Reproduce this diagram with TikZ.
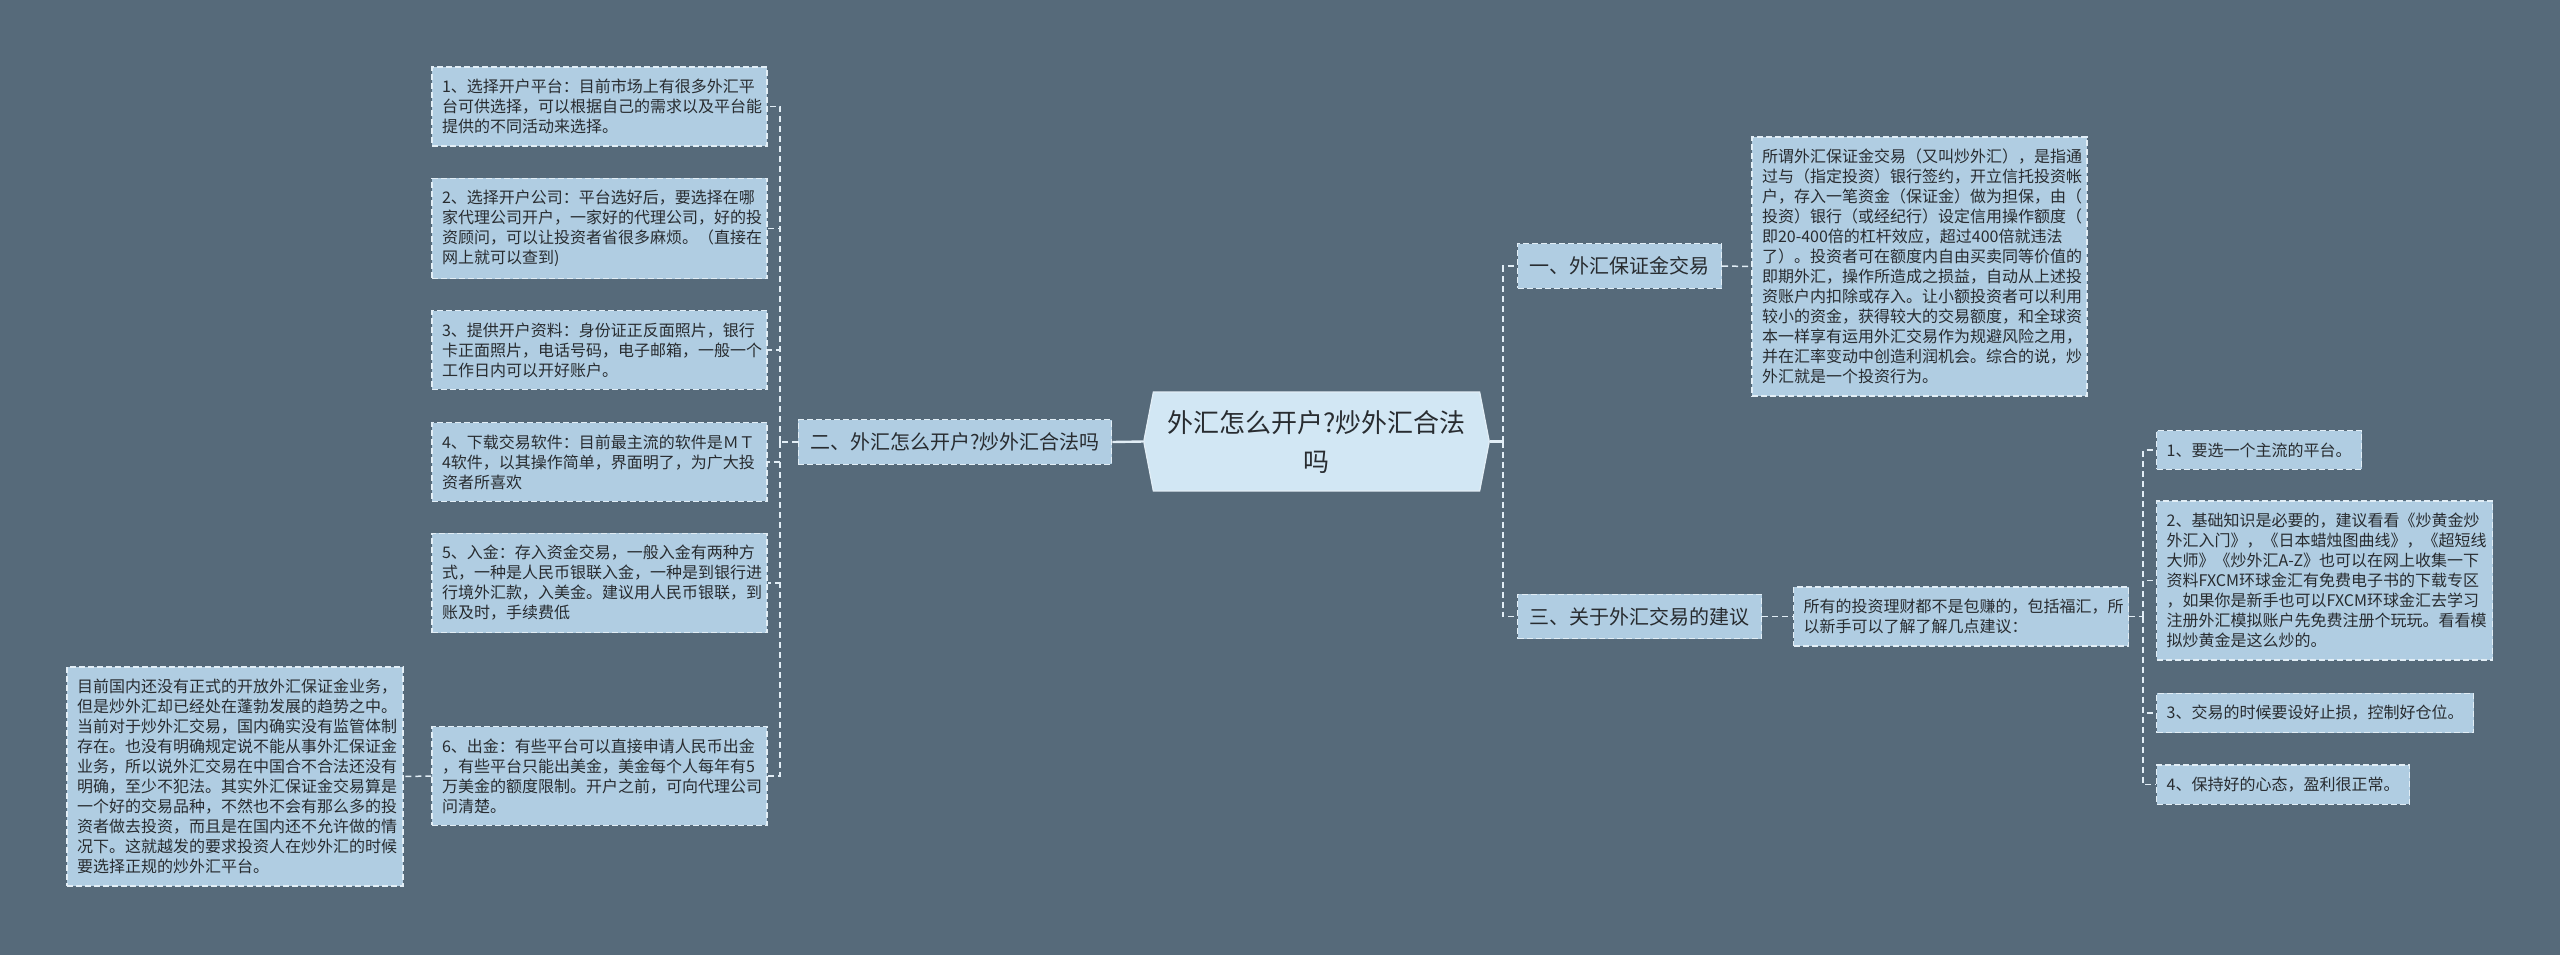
\documentclass[tikz,border=0pt]{standalone}
\usepackage{fontspec}
\setmainfont{Noto Sans CJK SC}
\usetikzlibrary{shapes.symbols}
\definecolor{pagebg}{RGB}{86,106,122}
\definecolor{boxfill}{RGB}{176,205,226}
\definecolor{rootfill}{RGB}{210,231,244}
\definecolor{inktext}{RGB}{40,44,48}
\definecolor{edgeline}{RGB}{226,238,246}
\tikzset{
  leafbox/.style={draw=edgeline,fill=boxfill,dash pattern=on 3pt off 1.5pt,line width=0.6pt,
    text=inktext,font=\fontsize{8}{10}\selectfont,inner xsep=5pt,inner ysep=6pt,align=left},
  wideleaf/.style={leafbox,text width=157.5pt},
  topicbox/.style={leafbox,font=\fontsize{10}{12}\selectfont,inner xsep=6pt,inner ysep=6.5pt},
  rootbox/.style={signal,signal to=west and east,signal pointer angle=158,fill=rootfill,
    draw=edgeline,line width=0.6pt,text=inktext,font=\fontsize{13}{19.5}\selectfont,
    align=center,inner xsep=7pt,inner ysep=9pt},
  link/.style={draw=edgeline,line width=0.75pt,dash pattern=on 3pt off 2pt},
  mainlink/.style={draw=edgeline,line width=1.2pt}
}
\begin{document}
\begin{tikzpicture}[x=0.5pt,y=-0.5pt]
  \fill[pagebg] (0,0) rectangle (2560,955);
  \useasboundingbox (0,0) rectangle (2560,955);
  % centre
  \node[rootbox] (root) at (1316.5,441.5) {外汇怎么开户?炒外汇合法\\吗};
  \node[topicbox] (t2) at (955,442) {二、外汇怎么开户?炒外汇合法吗};
  \node[topicbox,anchor=west] (t1) at (1517,266) {一、外汇保证金交易};
  \node[topicbox,anchor=west] (t3) at (1517,616.5) {三、关于外汇交易的建议};
  \coordinate (jl) at (780,442);
  \coordinate (jr) at (1503,441.5);
  \coordinate (jq) at (2143,616.5);
  % left branch
  \node[wideleaf] (l1) at (599.5,106.5) {1、选择开户平台：目前市场上有很多外汇平\\台可供选择，可以根据自己的需求以及平台能\\提供的不同活动来选择。};
  \node[wideleaf] (l2) at (599.5,228.5) {2、选择开户公司：平台选好后，要选择在哪\\家代理公司开户，一家好的代理公司，好的投\\资顾问，可以让投资者省很多麻烦。（直接在\\网上就可以查到)};
  \node[wideleaf] (l3) at (599.5,350) {3、提供开户资料：身份证正反面照片，银行\\卡正面照片，电话号码，电子邮箱，一般一个\\工作日内可以开好账户。};
  \node[wideleaf] (l4) at (599.5,462) {4、下载交易软件：目前最主流的软件是ＭＴ\\4软件，以其操作简单，界面明了，为广大投\\资者所喜欢};
  \node[wideleaf] (l5) at (599.5,583) {5、入金：存入资金交易，一般入金有两种方\\式，一种是人民币银联入金，一种是到银行进\\行境外汇款，入美金。建议用人民币银联，到\\账及时，手续费低};
  \node[wideleaf] (l6) at (599.5,776) {6、出金：有些平台可以直接申请人民币出金\\，有些平台只能出美金，美金每个人每年有5\\万美金的额度限制。开户之前，可向代理公司\\问清楚。};
  \node[wideleaf,text width=158pt] (far) at (235,776.5) {目前国内还没有正式的开放外汇保证金业务，\\但是炒外汇却已经处在蓬勃发展的趋势之中。\\当前对于炒外汇交易，国内确实没有监管体制\\存在。也没有明确规定说不能从事外汇保证金\\业务，所以说外汇交易在中国合不合法还没有\\明确，至少不犯法。其实外汇保证金交易算是\\一个好的交易品种，不然也不会有那么多的投\\资者做去投资，而且是在国内还不允许做的情\\况下。这就越发的要求投资人在炒外汇的时候\\要选择正规的炒外汇平台。};
  % right branch
  \node[wideleaf] (def) at (1919.5,266.5) {所谓外汇保证金交易（又叫炒外汇），是指通\\过与（指定投资）银行签约，开立信托投资帐\\户，存入一笔资金（保证金）做为担保，由（\\投资）银行（或经纪行）设定信用操作额度（\\即20-400倍的杠杆效应，超过400倍就违法\\了）。投资者可在额度内自由买卖同等价值的\\即期外汇，操作所造成之损益，自动从上述投\\资账户内扣除或存入。让小额投资者可以利用\\较小的资金，获得较大的交易额度，和全球资\\本一样享有运用外汇交易作为规避风险之用，\\并在汇率变动中创造利润机会。综合的说，炒\\外汇就是一个投资行为。};
  \node[wideleaf,anchor=west] (adv) at (1793,616.5) {所有的投资理财都不是包赚的，包括福汇，所\\以新手可以了解了解几点建议：};
  \node[leafbox,anchor=west] (r1) at (2156,450) {1、要选一个主流的平台。};
  \node[wideleaf,anchor=west,text width=158pt] (r2) at (2156,580.5) {2、基础知识是必要的，建议看看《炒黄金炒\\外汇入门》，《日本蜡烛图曲线》，《超短线\\大师》《炒外汇A-Z》也可以在网上收集一下\\资料FXCM环球金汇有免费电子书的下载专区\\，如果你是新手也可以FXCM环球金汇去学习\\注册外汇模拟账户先免费注册个玩玩。看看模\\拟炒黄金是这么炒的。};
  \node[leafbox,anchor=west] (r3) at (2156,713) {3、交易的时候要设好止损，控制好仓位。};
  \node[leafbox,anchor=west] (r4) at (2156,784.5) {4、保持好的心态，盈利很正常。};
  % connectors
  \draw[mainlink] (t2.east) -- (root.west);
  \draw[mainlink] (root.east) -- (jr);
  \draw[link] (jr) |- (t1.west);
  \draw[link] (jr) |- (t3.west);
  \draw[link] (t2.west) -- (jl);
  \foreach \n in {l1,l2,l3,l4,l5,l6}
    \draw[link] (jl) |- (\n.east);
  \draw[link] (l6.west) -- (far.east);
  \draw[link] (t1.east) -- (def.west);
  \draw[link] (t3.east) -- (adv.west);
  \draw[link] (adv.east) -- (jq);
  \foreach \n in {r1,r2,r3,r4}
    \draw[link] (jq) |- (\n.west);
\end{tikzpicture}
\end{document}
